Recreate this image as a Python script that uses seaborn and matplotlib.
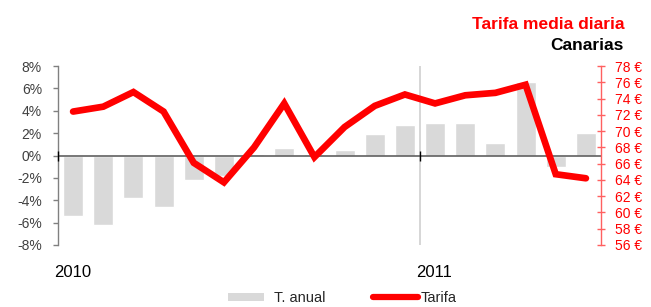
import numpy as np
import pandas as pd
import matplotlib
matplotlib.use("Agg")
import matplotlib.pyplot as plt
import seaborn as sns
from matplotlib.patches import Patch
from matplotlib.lines import Line2D
from matplotlib.ticker import FuncFormatter

sns.set_style("white")
plt.rcParams['font.family'] = ['Liberation Sans', 'DejaVu Sans']

months = ["2010-01", "2010-02", "2010-03", "2010-04", "2010-05", "2010-06",
          "2010-07", "2010-08", "2010-09", "2010-10", "2010-11", "2010-12",
          "2011-01", "2011-02", "2011-03", "2011-04", "2011-05", "2011-06"]
t_anual = [-5.4, -6.2, -3.8, -4.6, -2.2, -1.8, 0.1, 0.7, 0.1, 0.5, 1.9, 2.7,
           2.9, 2.9, 1.1, 6.6, -1.0, 2.0]
tarifa = [72.4, 73.0, 74.8, 72.4, 66.1, 63.7, 68.0, 73.4, 66.8, 70.5, 73.1, 74.5,
          73.4, 74.4, 74.7, 75.7, 64.7, 64.2]
year_labels = ["2010", "2011"]
left_ticks = [-8, -6, -4, -2, 0, 2, 4, 6, 8]
right_ticks = list(range(56, 80, 2))

df = pd.DataFrame({"mes": months, "t_anual": t_anual, "tarifa": tarifa,
                   "pos": np.arange(len(months))})

W, H = 651, 307
fig = plt.figure(figsize=(W/100, H/100), dpi=100)
ax = fig.add_axes([58/W, 1-245/H, (601-58)/W, (245-66)/H])

sns.barplot(data=df, x="mes", y="t_anual", color="#D9D9D9", width=0.667,
            saturation=1, ax=ax, zorder=1)
ax.set_xlim(-0.5, len(months)-0.5)
ax.set_ylim(-8, 8)
ax.set_yticks(left_ticks)
ax.yaxis.set_major_formatter(FuncFormatter(lambda v, p: f"{int(v)}%"))
ax.tick_params(axis="y", which="both", left=True, length=3.6, width=1,
               color="#808080", labelcolor="#404040", labelsize=10, pad=8, direction="out")
ax.set_xticks([])
ax.set_xlabel("")
ax.set_ylabel("")
for s in ["top", "right", "bottom"]:
    ax.spines[s].set_visible(False)
ax.spines["left"].set_color("#808080")
ax.spines["left"].set_linewidth(1)
ax.axhline(0, color="#606060", lw=1.2, zorder=2)
ax.axvline(11.5, color="#D0D0D0", lw=1.2, zorder=0)
ax.plot([-0.5], [0], marker="|", color="black", ms=7, clip_on=False, zorder=3)
ax.plot([11.5], [0], marker="|", color="black", ms=7, clip_on=False, zorder=3)

ax2 = ax.twinx()
sns.lineplot(data=df, x="pos", y="tarifa", color="#FF0000", lw=4.8, ax=ax2,
             zorder=5, solid_joinstyle="miter")
ax2.set_ylim(56, 78)
ax2.set_xlim(-0.5, len(months)-0.5)
ax2.set_yticks(right_ticks)
ax2.set_yticklabels([f"{v} €" for v in right_ticks])
ax2.tick_params(axis="y", right=True, length=5.5, width=1, color="#FF6060",
                labelcolor="#FF0000", labelsize=10, direction="inout", pad=7)
ax2.set_ylabel("")
ax2.set_xlabel("")
for s in ["top", "left", "bottom"]:
    ax2.spines[s].set_visible(False)
ax2.spines["right"].set_color("#FF6060")
ax2.spines["right"].set_linewidth(1)

# year labels
ax.text(-0.63, -10.45, year_labels[0], ha="left", va="center", fontsize=12, color="black")
ax.text(11.37, -10.45, year_labels[1], ha="left", va="center", fontsize=12, color="black")

fig.text(624/W, 1-29/H, "Tarifa media diaria", ha="right", va="baseline",
         fontsize=12.5, fontweight="bold", color="#FF0000")
fig.text(624/W, 1-50/H, "Canarias", ha="right", va="baseline",
         fontsize=12.5, fontweight="bold", color="black")

leg1 = fig.legend([Patch(facecolor="#D9D9D9", edgecolor="none")], ["T. anual"],
                  loc="center left", bbox_to_anchor=(228/W, 1-298/H), frameon=False,
                  fontsize=10.5, handlelength=2.5, handleheight=0.5, handletextpad=0.65,
                  borderpad=0, borderaxespad=0)
leg2 = fig.legend([Line2D([0], [0], color="#FF0000", lw=4.5)], ["Tarifa"],
                  loc="center left", bbox_to_anchor=(373/W, 1-298/H), frameon=False,
                  fontsize=10.5, handlelength=3.1, handletextpad=0.15,
                  borderpad=0, borderaxespad=0)

fig.savefig("out.png", dpi=100)
